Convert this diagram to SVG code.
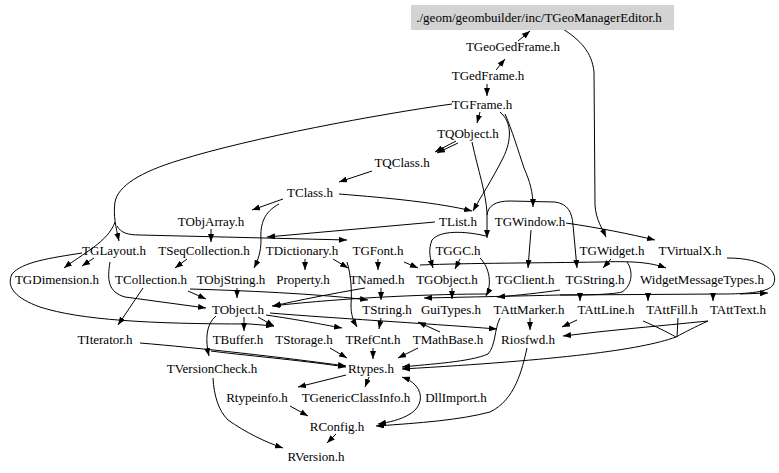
<svg xmlns="http://www.w3.org/2000/svg" width="779" height="473" viewBox="0 0 779 473">
<style>
text{font-family:"Liberation Serif","Times New Roman",serif;font-size:13px;fill:#000;text-anchor:middle}
.e path{fill:none;stroke:#000;stroke-width:1;marker-end:url(#a)}
.e path.n{marker-end:none}
</style>
<defs>
<marker id="a" viewBox="0 0 8 6" refX="8" refY="3" markerWidth="8" markerHeight="6" markerUnits="userSpaceOnUse" orient="auto"><path d="M0,0 L8,3 L0,6 z" fill="#000"/></marker>
<marker id="b" viewBox="0 0 8 6" refX="8" refY="3" markerWidth="8" markerHeight="6" markerUnits="userSpaceOnUse" orient="auto-start-reverse"><path d="M0,0 L8,3 L0,6 z" fill="#000"/></marker>
</defs>
<rect width="779" height="473" fill="#fff"/>
<g id="edges" class="e">
<path d="M518 41 L530 31"/>
<path d="M496 70 L505 59"/>
<path d="M487 84 L487 96"/>
<path d="M480 112 L477 123"/>
<path d="M456 141 L435 152"/>
<path d="M458 143 L437 153"/>
<path d="M372 171 L339 182"/>
<path d="M283 199 L252 210"/>
<path d="M339 194 C390 198 440 203 472 211"/>
<path d="M500 112 C512 122 512 140 503 158 C492 180 480 198 473 211"/>
<path d="M505 114 C512 130 518 150 524 168 C530 182 533 192 533 207"/>
<path d="M563 29 C580 40 592 52 594 72 L595 205 C596 220 602 228 606 237"/>
<path d="M452 104 C380 114 250 138 180 160 C140 172 118 186 115 202 C113 215 116 228 119 241"/>
<path d="M115 222 C108 242 82 254 64 268"/>
<path d="M117 226 C121 233 128 235 140 235 L347 240"/>
<path d="M435 222 L267 237"/>
<path d="M279 204 C264 212 260 224 261 240 C261 252 258 260 254 268"/>
<path d="M211 229 L211 242"/>
<path d="M187 259 L175 268"/>
<path d="M305 259 L305 270"/>
<path d="M378 259 L378 270"/>
<path d="M333 259 L348 268"/>
<path d="M347 262 C351 275 352 290 351 305 C351 315 353 320 357 327"/>
<path d="M404 262 L418 268"/>
<path d="M420 265 C470 263 540 263 600 262 C630 261 650 262 666 268"/>
<path d="M460 259 L455 269"/>
<path d="M531 230 L528 268"/>
<path d="M611 259 L603 268"/>
<path d="M566 223 C600 228 630 234 655 240"/>
<path d="M472 142 C478 170 486 193 487 213 L487 238"/>
<path d="M487 215 C488 206 495 201 510 201 L555 202 C568 204 572 212 573 225 L577 268"/>
<path d="M480 258 C490 268 492 285 486 296"/>
<path d="M486 236 C465 231 440 230 432 240 C428 250 430 258 433 268"/>
<path d="M94 258 L82 266"/>
<path d="M110 262 C107 280 108 292 125 297 L206 308"/>
<path d="M82 253 C50 258 22 262 12 274 C6 287 15 298 40 307 C80 320 150 324 250 324 L274 326"/>
<path d="M143 288 L118 325"/>
<path d="M188 291 L206 299"/>
<path d="M237 288 L237 298"/>
<path d="M190 289 C260 291 330 295 368 300"/>
<path d="M487 294 C440 294 350 297 272 306"/>
<path d="M365 288 C330 294 300 300 273 306"/>
<path d="M381 288 L381 300"/>
<path d="M452 288 L452 299"/>
<path d="M727 258 C765 258 780 272 773 285 C768 292 750 294 720 294 L560 295 C520 296 470 297 424 298"/>
<path d="M740 294 L768 293"/>
<path d="M580 294 L580 301"/>
<path d="M648 294 L648 301"/>
<path d="M713 294 L713 301"/>
<path d="M627 262 C633 270 633 285 622 292 C610 295 580 295 560 295" class="n"/>
<path d="M560 290 C540 293 520 295 497 297"/>
<path d="M244 317 L244 331"/>
<path d="M258 317 L274 326"/>
<path d="M266 315 C300 320 320 324 342 328"/>
<path d="M270 313 C330 318 420 323 497 329"/>
<path d="M381 318 L379 329"/>
<path d="M440 332 L418 322"/>
<path d="M530 318 L530 330"/>
<path d="M500 318 C494 330 496 345 488 354 C470 362 430 364 402 367"/>
<path d="M577 320 L562 327"/>
<path d="M708 321 C660 326 610 330 563 336"/>
<path d="M708 321 C695 327 685 332 676 337 C640 350 560 360 402 369"/>
<path d="M643 321 C655 326 667 332 676 337" class="n"/>
<path d="M678 318 L677 337" class="n"/>
<path d="M140 343 C200 348 280 357 346 366"/>
<path d="M216 316 C206 324 205 340 209 356"/>
<path d="M211 351 C240 355 300 360 346 367"/>
<path d="M330 348 L347 358"/>
<path d="M373 348 L373 359"/>
<path d="M418 348 L398 358"/>
<path d="M527 348 C522 370 515 400 490 412 C460 420 420 423 376 426"/>
<path d="M346 375 L298 387"/>
<path d="M369 377 L365 387"/>
<path d="M402 377 C425 385 425 405 410 414 C400 420 390 422 378 424" style="marker-start:url(#b)"/>
<path d="M290 406 L308 416"/>
<path d="M336 434 L327 443"/>
<path d="M213 378 C214 395 218 410 228 420 C245 432 265 442 283 448"/>
</g>
<g id="n_editor"><rect x="411" y="5" width="263" height="25" fill="#d3d3d3"/><text x="539" y="22">./geom/geombuilder/inc/TGeoManagerEditor.h</text></g>
<g id="n_TGeoGedFrame"><text x="513" y="51">TGeoGedFrame.h</text></g>
<g id="n_TGedFrame"><text x="488" y="80">TGedFrame.h</text></g>
<g id="n_TGFrame"><text x="482" y="109">TGFrame.h</text></g>
<g id="n_TQObject"><text x="468" y="138">TQObject.h</text></g>
<g id="n_TQClass"><text x="402" y="167">TQClass.h</text></g>
<g id="n_TClass"><text x="310" y="197">TClass.h</text></g>
<g id="n_TObjArray"><text x="211" y="226">TObjArray.h</text></g>
<g id="n_TList"><text x="458" y="226">TList.h</text></g>
<g id="n_TGWindow"><text x="530" y="226">TGWindow.h</text></g>
<g id="n_TGLayout"><text x="114" y="255">TGLayout.h</text></g>
<g id="n_TSeqCollection"><text x="204" y="255">TSeqCollection.h</text></g>
<g id="n_TDictionary"><text x="302" y="255">TDictionary.h</text></g>
<g id="n_TGFont"><text x="378" y="255">TGFont.h</text></g>
<g id="n_TGGC"><text x="458" y="255">TGGC.h</text></g>
<g id="n_TGWidget"><text x="612" y="255">TGWidget.h</text></g>
<g id="n_TVirtualX"><text x="690" y="255">TVirtualX.h</text></g>
<g id="n_TGDimension"><text x="57" y="284">TGDimension.h</text></g>
<g id="n_TCollection"><text x="151" y="284">TCollection.h</text></g>
<g id="n_TObjString"><text x="231" y="284">TObjString.h</text></g>
<g id="n_Property"><text x="303" y="284">Property.h</text></g>
<g id="n_TNamed"><text x="377" y="284">TNamed.h</text></g>
<g id="n_TGObject"><text x="447" y="284">TGObject.h</text></g>
<g id="n_TGClient"><text x="525" y="284">TGClient.h</text></g>
<g id="n_TGString"><text x="595" y="284">TGString.h</text></g>
<g id="n_WidgetMessageTypes"><text x="702" y="284">WidgetMessageTypes.h</text></g>
<g id="n_TObject"><text x="238" y="314">TObject.h</text></g>
<g id="n_TString"><text x="387" y="314">TString.h</text></g>
<g id="n_GuiTypes"><text x="451" y="314">GuiTypes.h</text></g>
<g id="n_TAttMarker"><text x="529" y="314">TAttMarker.h</text></g>
<g id="n_TAttLine"><text x="606" y="314">TAttLine.h</text></g>
<g id="n_TAttFill"><text x="672" y="314">TAttFill.h</text></g>
<g id="n_TAttText"><text x="738" y="314">TAttText.h</text></g>
<g id="n_TIterator"><text x="105" y="344">TIterator.h</text></g>
<g id="n_TBuffer"><text x="238" y="344">TBuffer.h</text></g>
<g id="n_TStorage"><text x="304" y="344">TStorage.h</text></g>
<g id="n_TRefCnt"><text x="373" y="344">TRefCnt.h</text></g>
<g id="n_TMathBase"><text x="448" y="344">TMathBase.h</text></g>
<g id="n_Riosfwd"><text x="528" y="344">Riosfwd.h</text></g>
<g id="n_TVersionCheck"><text x="212" y="373">TVersionCheck.h</text></g>
<g id="n_Rtypes"><text x="371" y="373">Rtypes.h</text></g>
<g id="n_Rtypeinfo"><text x="257" y="402">Rtypeinfo.h</text></g>
<g id="n_TGenericClassInfo"><text x="356" y="402">TGenericClassInfo.h</text></g>
<g id="n_DllImport"><text x="456" y="402">DllImport.h</text></g>
<g id="n_RConfig"><text x="337" y="431">RConfig.h</text></g>
<g id="n_RVersion"><text x="316" y="461">RVersion.h</text></g>
</svg>
